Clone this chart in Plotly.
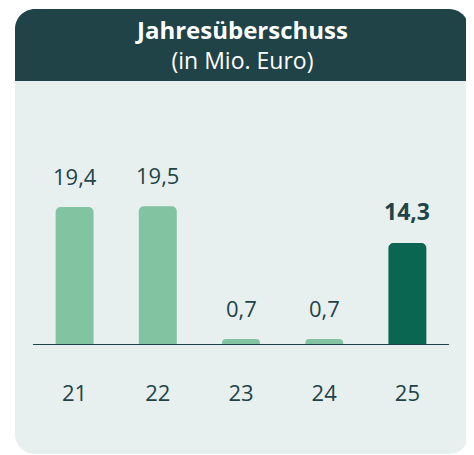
import plotly.graph_objects as go

# ---- data ----
categories = ["21", "22", "23", "24", "25"]
values = [19.4, 19.5, 0.7, 0.7, 14.3]
highlight = [False, False, False, False, True]
title_main = "Jahresüberschuss"
title_sub = "(in Mio. Euro)"

# ---- style ----
OFF = 8                      # page body margin of the html
W, H = 474 - OFF, 455 - OFF
PL, PR, PT, PB = 33, 449, 100, 344   # plot area in page pixels
ML, MR, MT, MB = PL - OFF, (W + OFF) - PR, PT - OFF, (H + OFF) - PB
PW, PH = PR - PL, PB - PT
YMAX = PH / 7.06

C_HEAD = "#1f4347"
C_BODY = "#e7f0ef"
C_LIGHT = "#82c4a2"
C_DARK = "#0b6651"
C_TEXT = "#1f4448"
FONT = "Open Sans"


def px(x):
    return (x - PL) / PW


def py(y):
    return (PB - y) / PH


def rounded_path(x0, y0, x1, y1, r_top, r_bot):
    k = 0.5523
    def P(x, y):
        return f"{px(x):.5f},{py(y):.5f}"
    s = f"M {P(x0, y0 + r_top)} "
    s += f"C {P(x0, y0 + r_top - k * r_top)} {P(x0 + r_top - k * r_top, y0)} {P(x0 + r_top, y0)} "
    s += f"L {P(x1 - r_top, y0)} "
    s += f"C {P(x1 - r_top + k * r_top, y0)} {P(x1, y0 + r_top - k * r_top)} {P(x1, y0 + r_top)} "
    s += f"L {P(x1, y1 - r_bot)} "
    if r_bot > 0:
        s += f"C {P(x1, y1 - r_bot + k * r_bot)} {P(x1 - r_bot + k * r_bot, y1)} {P(x1 - r_bot, y1)} "
        s += f"L {P(x0 + r_bot, y1)} "
        s += f"C {P(x0 + r_bot - k * r_bot, y1)} {P(x0, y1 - r_bot + k * r_bot)} {P(x0, y1 - r_bot)} "
    else:
        s += f"L {P(x0, y1)} "
    s += "Z"
    return s


colors = [C_DARK if h else C_LIGHT for h in highlight]

fig = go.Figure(
    go.Bar(
        x=categories,
        y=values,
        marker=dict(color=colors, cornerradius=5, line=dict(width=0)),
        hoverinfo="skip",
    )
)

shapes = [
    dict(type="path", xref="paper", yref="paper", layer="below",
         path=rounded_path(15, 9, 469, 454, 20, 20),
         fillcolor=C_BODY, line=dict(width=0)),
    dict(type="path", xref="paper", yref="paper", layer="below",
         path=rounded_path(15, 9, 469, 81, 20, 0),
         fillcolor=C_HEAD, line=dict(width=0)),
]

annotations = [
    dict(text=f"<b><span style='font-size:24px'>{title_main}</span></b><br>{title_sub}",
         xref="paper", yref="paper",
         x=px(241), y=py(44.5), xanchor="center", yanchor="middle", showarrow=False,
         align="center",
         font=dict(family=FONT, size=23, color="white")),
]

for i, (v, h) in enumerate(zip(values, highlight)):
    label = f"{v:.1f}".replace(".", ",")
    annotations.append(dict(
        text=f"<b>{label}</b>" if h else label,
        x=i, y=v, xref="x", yref="y",
        xanchor="center", yanchor="bottom", yshift=14, showarrow=False,
        font=dict(family=FONT, size=23 if h else 22, color=C_TEXT),
    ))

fig.update_layout(
    width=W, height=H,
    margin=dict(l=ML, r=MR, t=MT, b=MB, pad=0),
    paper_bgcolor="white",
    plot_bgcolor="rgba(0,0,0,0)",
    showlegend=False,
    bargap=0.544,
    shapes=shapes,
    annotations=annotations,
    font=dict(family=FONT, color=C_TEXT),
)
fig.update_xaxes(
    type="category", range=[-0.5, len(categories) - 0.5],
    showline=True, linecolor=C_TEXT, linewidth=1,
    showgrid=False, zeroline=False,
    ticks="", ticklabelstandoff=30,
    tickfont=dict(family=FONT, size=22, color=C_TEXT),
    fixedrange=True,
)
fig.update_yaxes(
    range=[0, YMAX], visible=False, showgrid=False, zeroline=False, fixedrange=True,
)

fig.write_html("out.html", config={"displayModeBar": False})
